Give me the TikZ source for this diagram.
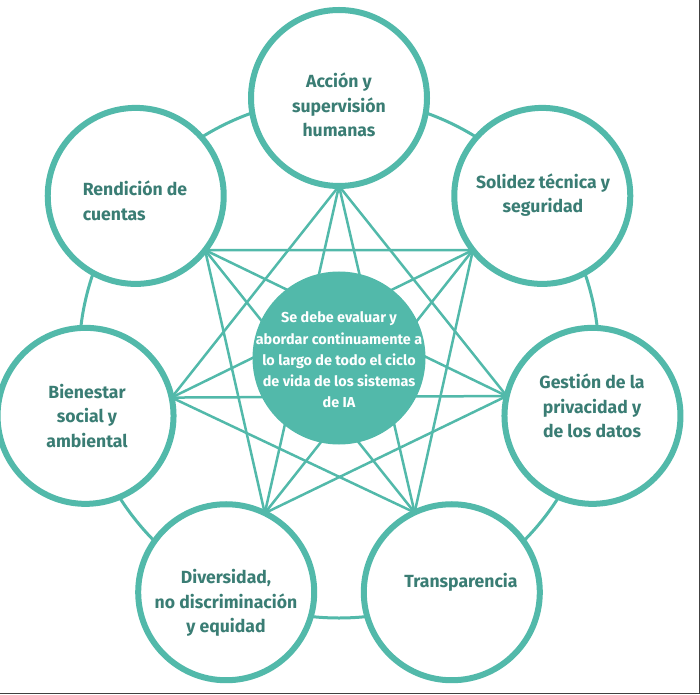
\documentclass[tikz,border=0pt]{standalone}
\usepackage{fontspec}
\setmainfont{Fira Sans}
\usepackage{tikz}
\usetikzlibrary{positioning}

\definecolor{verde}{HTML}{52B9AA}
\definecolor{texto}{HTML}{3A7D74}

\begin{document}
\begin{tikzpicture}[x=1pt, y=1pt,
    circ/.style={draw=verde, line width=6pt, fill=white, circle, minimum size=176pt, inner sep=0pt, outer sep=0pt},
    anillo/.style={draw=verde, line width=3pt},
    enlace/.style={draw=verde, line width=2.5pt},
    etiqueta/.style={text=texto, font=\fontsize{17.6}{24.5}\selectfont\bfseries, align=center},
    centro/.style={fill=verde, circle, minimum size=173pt, inner sep=0pt},
    nota/.style={text=white, font=\fontsize{14.4}{21.2}\selectfont\bfseries, align=center, inner sep=0pt}]
\useasboundingbox (0,0) rectangle (700,694);

\begin{scope}[shift={(339,336)}]
    \draw[anillo] (0,0) circle (260);
    \foreach \n [count=\i from 0] in {accion,solidez,gestion,transparencia,diversidad,bienestar,rendicion} {
        \pgfmathsetmacro\a{270-\i*360/7}
        \node[circ] (\n) at ({90-\i*360/7}:260) {};
        \coordinate (p\i) at (\n.\a);
    }
\end{scope}

\foreach \i in {0,...,6} \foreach \k in {2,3} {
    \pgfmathtruncatemacro\j{mod(\i+\k,7)}
    \draw[enlace] (p\i) -- (p\j);
}

\node[centro] (centro) at (339,336) {};
\node[nota] (centro-t) at (339,334) {Se debe evaluar y\\abordar continuamente a\\lo largo de todo el ciclo\\de vida de los sistemas\\de IA};

\node[etiqueta] (accion-t) at (339,589) {Acción y\\supervisión\\humanas};
\node[etiqueta] (solidez-t) at (543,499) {Solidez técnica y\\seguridad};
\node[etiqueta] (gestion-t) at (592,288) {Gestión de la\\privacidad y\\de los datos};
\node[etiqueta] (transparencia-t) at (461,112) {Transparencia};
\node[etiqueta] (diversidad-t) at (226,91) {Diversidad,\\no discriminación\\y equidad};
\node[etiqueta] (bienestar-t) at (87,278) {Bienestar\\social y\\ambiental};
\node[etiqueta, align=left] (rendicion-t) at (135,493) {Rendición de\\cuentas};

\draw[black!75, line width=1.2pt] (0,0.6) -- (699.4,0.6) -- (699.4,694);
\end{tikzpicture}
\end{document}
